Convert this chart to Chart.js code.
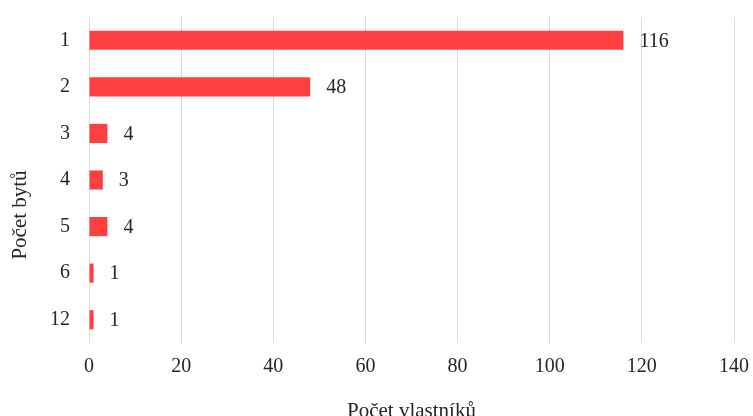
<!DOCTYPE html>
<html>
<head>
<meta charset="utf-8">
<script src="https://cdn.jsdelivr.net/npm/chart.js@4/dist/chart.umd.min.js"></script>
<style>
  html, body { margin: 0; padding: 0; background: #ffffff; overflow: hidden; }
  #wrap { width: 753px; height: 416px; overflow: hidden; }
  canvas { display: block; }
</style>
</head>
<body>
<div id="wrap"><canvas id="chart" width="753" height="430"></canvas></div>
<script>
// Number of flats owned (categories) and number of owners for each
const categories = ['1', '2', '3', '4', '5', '6', '12'];
const owners = [116, 48, 4, 3, 4, 1, 1];
const xTicks = [0, 20, 40, 60, 80, 100, 120, 140];
const xTitle = 'Počet vlastníků';
const yTitle = 'Počet bytů';

const FONT = '"Liberation Serif", "Times New Roman", serif';
const TEXT = '#262626';
const BAR = '#ff4040';

// Value labels just past the end of each bar
const valueLabels = {
  id: 'valueLabels',
  afterDatasetsDraw(chart) {
    const ctx = chart.ctx;
    const meta = chart.getDatasetMeta(0);
    ctx.save();
    ctx.font = '20px ' + FONT;
    ctx.fillStyle = TEXT;
    ctx.textAlign = 'left';
    ctx.textBaseline = 'middle';
    meta.data.forEach((bar, i) => {
      ctx.fillText(String(owners[i]), bar.x + 16, bar.y + 1);
    });
    ctx.restore();
  }
};

// Rotated title for the category axis
const sideTitle = {
  id: 'sideTitle',
  afterDraw(chart) {
    const ctx = chart.ctx;
    ctx.save();
    ctx.font = '21px ' + FONT;
    ctx.fillStyle = TEXT;
    ctx.textAlign = 'center';
    ctx.textBaseline = 'middle';
    ctx.translate(20, 215);
    ctx.rotate(-Math.PI / 2);
    ctx.fillText(yTitle, 0, 0);
    ctx.restore();
  }
};

new Chart(document.getElementById('chart'), {
  type: 'bar',
  data: {
    labels: categories,
    datasets: [{
      data: owners,
      backgroundColor: BAR,
      borderWidth: 0,
      barPercentage: 0.41,
      categoryPercentage: 1.0
    }]
  },
  options: {
    indexAxis: 'y',
    responsive: false,
    animation: false,
    layout: { padding: { top: 17, right: 19, left: 0, bottom: 0 } },
    plugins: {
      legend: { display: false },
      tooltip: { enabled: false }
    },
    scales: {
      x: {
        min: 0,
        max: 140,
        afterBuildTicks(scale) {
          scale.ticks = xTicks.map(v => ({ value: v }));
        },
        afterFit(scale) {
          scale.height = 87;
          scale.paddingLeft = 0;
          scale.paddingRight = 0;
        },
        grid: { color: '#d9d9d9', lineWidth: 1, drawTicks: false },
        border: { display: false },
        ticks: {
          padding: 12,
          color: TEXT,
          font: { family: FONT, size: 20 }
        },
        title: {
          display: true,
          text: xTitle,
          color: TEXT,
          font: { family: FONT, size: 21 },
          padding: { top: 0, bottom: 6 }
        }
      },
      y: {
        afterFit(scale) {
          scale.width = 89;
          scale.paddingTop = 0;
          scale.paddingBottom = 0;
        },
        grid: { display: false, drawTicks: false },
        border: { display: false },
        ticks: {
          padding: 19,
          color: TEXT,
          font: { family: FONT, size: 20 }
        }
      }
    }
  },
  plugins: [valueLabels, sideTitle]
});
</script>
</body>
</html>
